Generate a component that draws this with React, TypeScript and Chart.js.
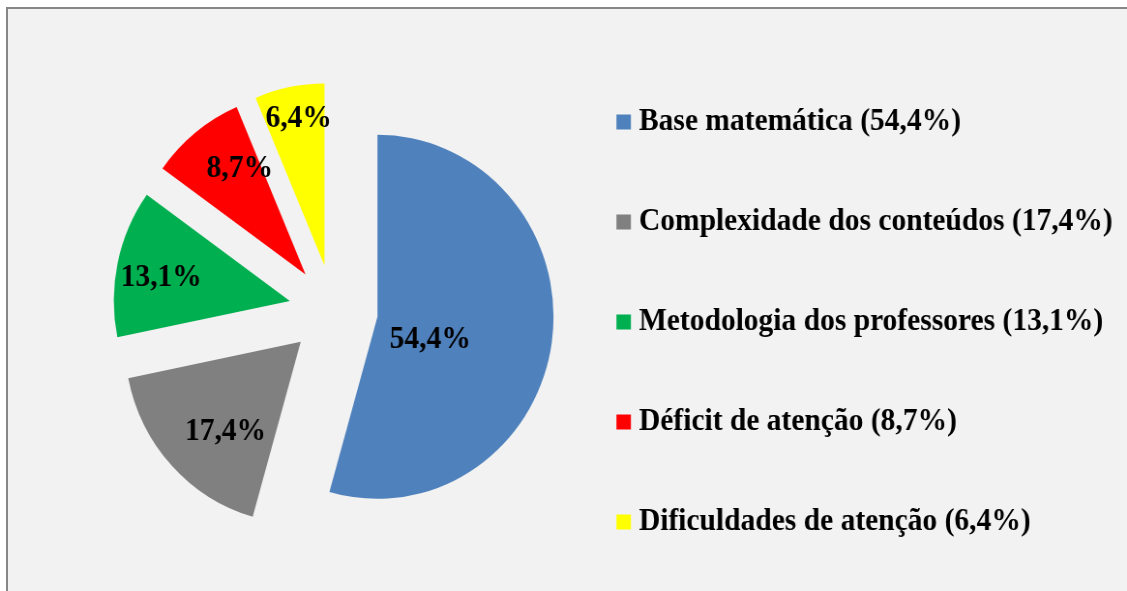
import { useEffect, useRef } from 'react';
import { Chart, registerables } from 'chart.js';

Chart.register(...registerables);

// ---- data ----
const categories = [
  'Base matemática (54,4%)',
  'Complexidade dos conteúdos (17,4%)',
  'Metodologia dos professores (13,1%)',
  'Déficit de atenção (8,7%)',
  'Dificuldades de atenção (6,4%)',
];
const values = [54.4, 17.4, 13.1, 8.7, 6.4];
const sliceColors = ['#4F81BD', '#808080', '#00B050', '#FF0000', '#FFFF00'];

// ---- label placement (style) ----
const labelRadiusFraction = [0.326, 0.653, 0.741, 0.688, 0.816];
const labelAngleShiftDeg = [15.1, -6.3, -2.5, 5.8, 1.2];

const FONT_FAMILY = '"Liberation Serif", "Times New Roman", serif';
const FONT_SIZE = 30.5;

// the original picture is slightly compressed horizontally
const PAGE_W = 1127;
const PAGE_H = 591;
const CANVAS_W = 1165;

const formatPct = (v: number) => v.toFixed(1).replace('.', ',') + '%';

const explodeLabelsPlugin = {
  id: 'explodeLabels',
  beforeDatasetsDraw(chart: any, _args: any, opts: any) {
    const meta = chart.getDatasetMeta(0);
    meta.data.forEach((arc: any) => {
      const mid = (arc.startAngle + arc.endAngle) / 2;
      arc.$baseXY = { x: arc.x, y: arc.y };
      arc.x = arc.x + Math.cos(mid) * opts.distance;
      arc.y = arc.y + Math.sin(mid) * opts.distance;
    });
  },
  afterDatasetsDraw(chart: any, _args: any, opts: any) {
    const meta = chart.getDatasetMeta(0);
    const ctx = chart.ctx as CanvasRenderingContext2D;
    ctx.save();
    ctx.font = `bold ${FONT_SIZE}px ${FONT_FAMILY}`;
    ctx.fillStyle = '#000';
    ctx.textAlign = 'center';
    ctx.textBaseline = 'middle';
    meta.data.forEach((arc: any, i: number) => {
      const ang =
        (arc.startAngle + arc.endAngle) / 2 + (opts.angleShift[i] * Math.PI) / 180;
      const rr = arc.outerRadius * opts.radiusFraction[i];
      ctx.fillText(
        formatPct(chart.data.datasets[0].data[i]),
        arc.x + Math.cos(ang) * rr,
        arc.y + Math.sin(ang) * rr
      );
      if (arc.$baseXY) {
        arc.x = arc.$baseXY.x;
        arc.y = arc.$baseXY.y;
      }
    });
    ctx.restore();
  },
};

export default function App() {
  const ref = useRef<HTMLCanvasElement>(null);

  useEffect(() => {
    if (!ref.current) return;
    const chart = new Chart(ref.current, {
      type: 'pie',
      data: {
        labels: categories,
        datasets: [
          {
            data: values,
            backgroundColor: sliceColors,
            borderWidth: 0,
          },
        ],
      },
      plugins: [explodeLabelsPlugin as any],
      options: {
        responsive: false,
        animation: false,
        devicePixelRatio: 1,
        radius: 182,
        layout: { padding: { left: 55, right: 10.8, top: 40, bottom: 10 } },
        plugins: {
          tooltip: { enabled: false },
          explodeLabels: {
            distance: 46,
            radiusFraction: labelRadiusFraction,
            angleShift: labelAngleShiftDeg,
          },
          legend: {
            display: true,
            position: 'right',
            align: 'center',
            maxWidth: 520,
            title: {
              display: true,
              text: '',
              font: { size: 10, lineHeight: '23px' },
              padding: 0,
            },
            labels: {
              color: '#000',
              usePointStyle: true,
              pointStyle: 'rect',
              boxWidth: 1,
              boxHeight: 15,
              padding: 10,
              font: {
                family: FONT_FAMILY,
                size: FONT_SIZE,
                weight: 'bold',
                lineHeight: '90px',
              },
              generateLabels: (c: any) => {
                const base = (Chart as any).overrides.pie.plugins.legend.labels.generateLabels(c);
                return base.map((it: any, i: number) => ({
                  ...it,
                  text: i < base.length - 1 ? [it.text] : it.text,
                }));
              },
            },
          },
        },
      } as any,
    });
    return () => chart.destroy();
  }, []);

  return (
    <div
      style={{
        position: 'absolute',
        left: 0,
        top: 0,
        width: PAGE_W,
        height: PAGE_H,
        background: '#ffffff',
        overflow: 'hidden',
      }}
    >
      <div
        style={{
          position: 'absolute',
          left: 6,
          top: 7,
          right: 0,
          bottom: 0,
          borderLeft: '2px solid #878787',
          borderTop: '2px solid #878787',
          background: '#f2f2f2',
        }}
      />
      <canvas
        ref={ref}
        width={CANVAS_W}
        height={PAGE_H}
        style={{
          position: 'absolute',
          left: 0,
          top: 0,
          width: PAGE_W + 'px',
          height: PAGE_H + 'px',
        }}
      />
    </div>
  );
}
